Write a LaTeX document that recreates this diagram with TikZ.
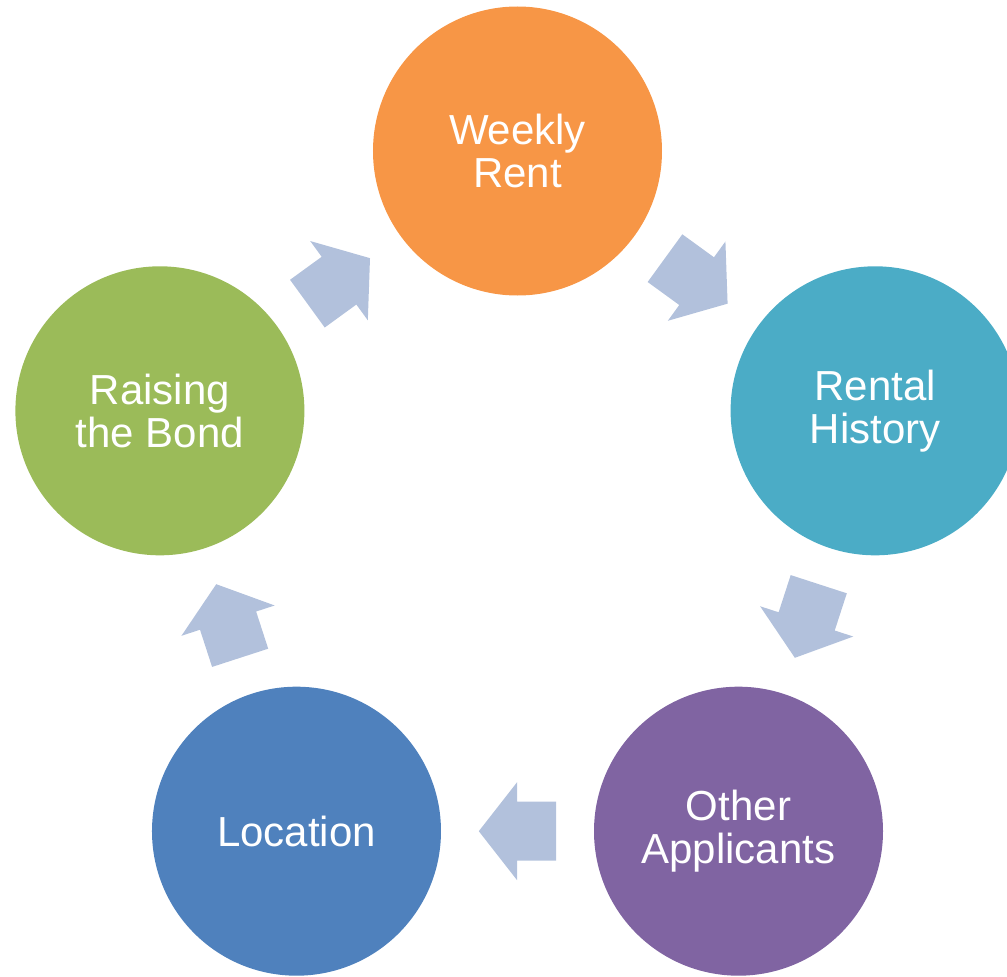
\documentclass[tikz,border=0pt]{standalone}
\usepackage{fontspec}
\setmainfont{Liberation Sans}
\usetikzlibrary{calc}
\definecolor{cOrange}{HTML}{F79646}
\definecolor{cTeal}{HTML}{4BACC6}
\definecolor{cPurple}{HTML}{8064A2}
\definecolor{cBlue}{HTML}{4F81BD}
\definecolor{cGreen}{HTML}{9BBB59}
\definecolor{cArrow}{HTML}{B2C1DC}
\newcommand{\cyclearrow}[3]{%
  \begin{scope}[shift={($(#1)!0.5!(#2)$)}, rotate=#3]
    \fill[arrowfill] (-38.7,-29.5) -- (0.4,-29.5) -- (0.4,-49) -- (38.7,0)
      -- (0.4,49) -- (0.4,29.5) -- (-38.7,29.5) -- cycle;
  \end{scope}}
\begin{document}
\begin{tikzpicture}[x=0.75pt,y=0.75pt,
  stage/.style={circle, minimum size=216.75pt, inner sep=0pt, text=white,
    align=center, font=\fontsize{31.5}{32.5}\selectfont},
  arrowfill/.style={fill=cArrow}]
\clip (-517.5,-449) rectangle (489.5,527);
\node[stage, fill=cOrange] (weekly) at (90:376) {Weekly\\Rent};
\node[stage, fill=cTeal] (rental) at (18:376) {Rental\\History};
\node[stage, fill=cPurple] (other) at (-54:376) {Other\\Applicants};
\node[stage, fill=cBlue] (location) at (-126:376) {Location};
\node[stage, fill=cGreen] (bond) at (162:376) {Raising\\the Bond};
\cyclearrow{bond}{weekly}{36}
\cyclearrow{weekly}{rental}{-36}
\cyclearrow{rental}{other}{-108}
\cyclearrow{other}{location}{180}
\cyclearrow{location}{bond}{108}
\end{tikzpicture}
\end{document}
